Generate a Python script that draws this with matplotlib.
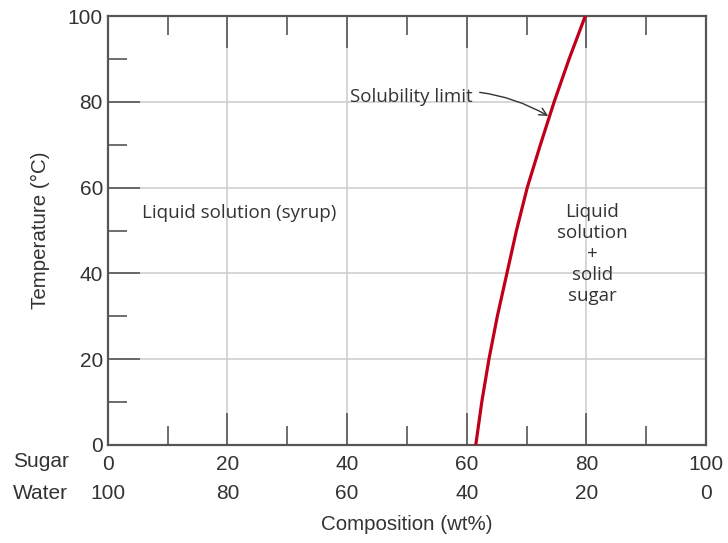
import matplotlib
matplotlib.use('Agg')
import matplotlib.pyplot as plt
from matplotlib.ticker import MultipleLocator

# solubility limit
temp = [0, 10, 20, 30, 40, 50, 60, 70, 80, 90, 100]
sugar_wt = [61.5, 62.5, 63.7, 65.1, 66.7, 68.3, 70.1, 72.3, 74.6, 77.1, 79.8]

sugar_ticks = [0, 20, 40, 60, 80, 100]
water_ticks = [100 - s for s in sugar_ticks]
temp_ticks = [0, 20, 40, 60, 80, 100]

txt = '#333333'
spine = '#555555'
tick_font = dict(family='Liberation Sans', fontsize=15, color=txt)
label_font = dict(family='Liberation Sans', fontsize=14.8, color=txt)
note_font = dict(family='Open Sans', fontsize=13.5, color=txt)

fig = plt.figure(figsize=(7.28, 5.43), dpi=100)
ax = fig.add_axes([0.148, 0.1805, 0.822, 0.79])

ax.plot(sugar_wt, temp, color='#c0001a', lw=2.3, zorder=3)

ax.set_xlim(0, 100)
ax.set_ylim(0, 100)
ax.set_xticks(sugar_ticks)
ax.set_xticklabels([str(s) for s in sugar_ticks], **tick_font)
ax.set_yticks(temp_ticks)
ax.set_yticklabels([str(t) for t in temp_ticks], **tick_font)
ax.xaxis.set_minor_locator(MultipleLocator(10))
ax.yaxis.set_minor_locator(MultipleLocator(10))
ax.tick_params(which='major', direction='in', length=23, width=1.2, color=spine,
               top=True, right=False)
ax.tick_params(axis='x', which='major', pad=7)
ax.tick_params(which='minor', direction='in', length=14, width=1.2, color=spine,
               top=True, right=False)
ax.grid(True, which='major', color='#cccccc', lw=1.1)
for s in ax.spines.values():
    s.set_color(spine)
    s.set_linewidth(1.6)

# second row of composition labels (water)
for s, w in zip(sugar_ticks, water_ticks):
    ax.text(s, -0.112, str(w), transform=ax.get_xaxis_transform(), ha='center',
            va='center', **tick_font)

ax.set_ylabel('Temperature (°C)', labelpad=13, **label_font)
ax.set_xlabel('Composition (wt%)', labelpad=30, **label_font)

ax.text(-0.112, -0.0396, 'Sugar', transform=ax.transAxes, ha='center', va='center',
        **tick_font)
ax.text(-0.112, -0.112, 'Water', transform=ax.transAxes, ha='center', va='center',
        **tick_font)

ax.text(22, 54, 'Liquid solution (syrup)', ha='center', va='center', **note_font)
ax.text(81, 44.5, 'Liquid\nsolution\n+\nsolid\nsugar', ha='center', va='center',
        linespacing=1.2, **note_font)
ax.annotate('Solubility limit', xy=(73.6, 76.7), xytext=(61, 81.2),
            ha='right', va='center',
            arrowprops=dict(arrowstyle='->', color=txt, lw=1,
                            connectionstyle='arc3,rad=-0.2', shrinkA=3, shrinkB=0),
            **note_font)

fig.savefig('out.png', dpi=100)
